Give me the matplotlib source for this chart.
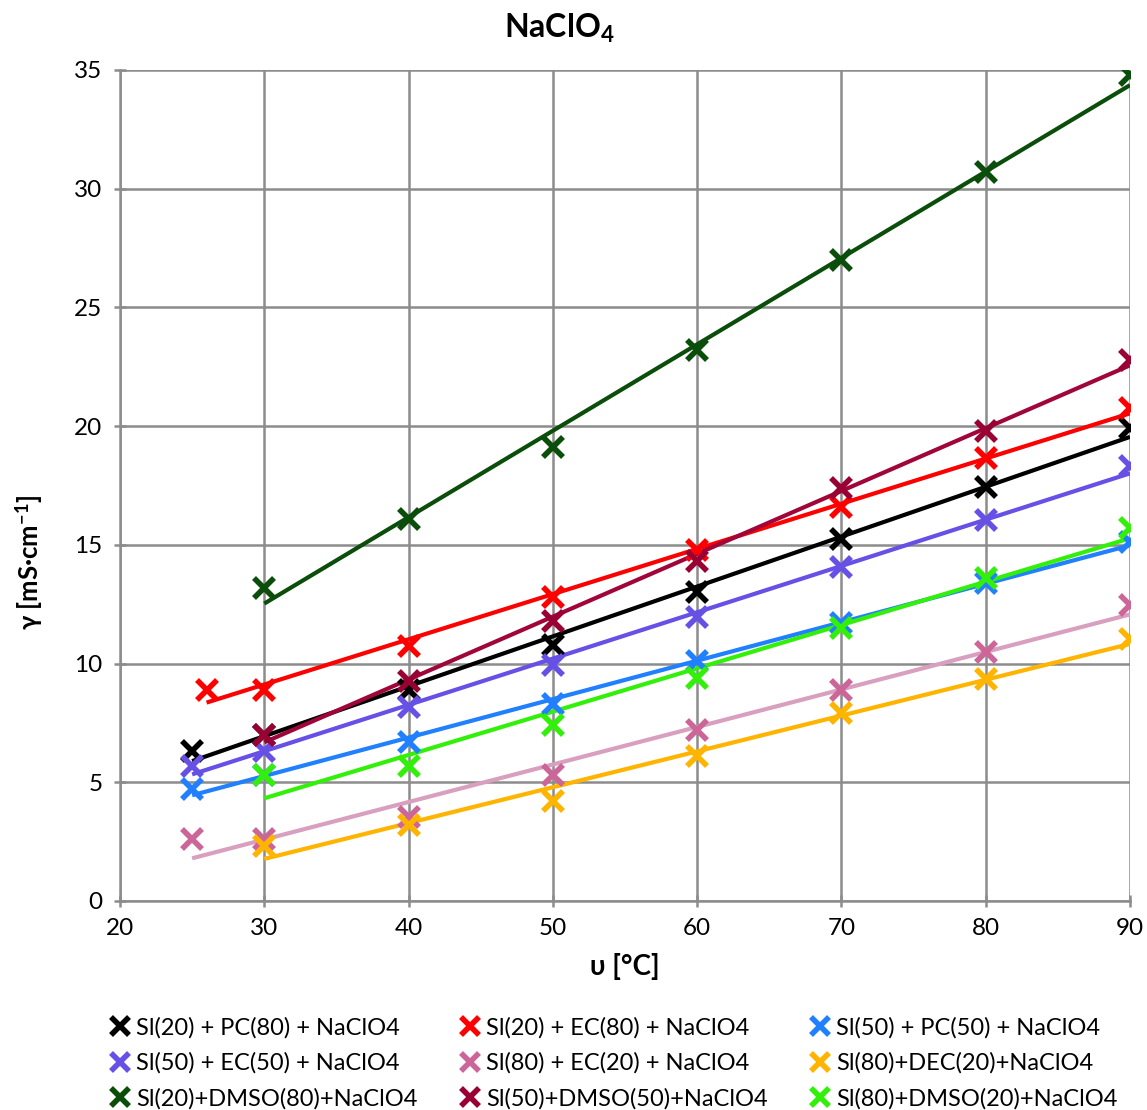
import numpy as np
import matplotlib
matplotlib.use("Agg")
import matplotlib.pyplot as plt
from matplotlib.lines import Line2D

plt.rcParams['font.family'] = ['Lato', 'DejaVu Sans']
plt.rcParams['mathtext.fontset'] = 'custom'
plt.rcParams['mathtext.rm'] = 'Lato'
plt.rcParams['mathtext.bf'] = 'Lato:bold'
plt.rcParams['mathtext.it'] = 'Lato:italic'

labels = [
    "Sl(20) + PC(80) + NaClO4",
    "Sl(20) + EC(80) + NaClO4",
    "Sl(50) + PC(50) + NaClO4",
    "Sl(50) + EC(50) + NaClO4",
    "Sl(80) + EC(20) + NaClO4",
    "Sl(80)+DEC(20)+NaClO4",
    "Sl(20)+DMSO(80)+NaClO4",
    "Sl(50)+DMSO(50)+NaClO4",
    "Sl(80)+DMSO(20)+NaClO4",
]

x_pc80 = [25, 30, 40, 50, 60, 70, 80, 90]
y_pc80 = [6.3, 7.0, 8.9, 10.8, 13.0, 15.25, 17.45, 19.9]

x_ec80 = [26, 30, 40, 50, 60, 70, 80, 90]
y_ec80 = [8.9, 8.9, 10.75, 12.8, 14.8, 16.6, 18.65, 20.75]

x_pc50 = [25, 30, 40, 50, 60, 70, 80, 90]
y_pc50 = [4.7, 5.3, 6.7, 8.3, 10.1, 11.7, 13.4, 15.1]

x_ec50 = [25, 30, 40, 50, 60, 70, 80, 90]
y_ec50 = [5.7, 6.3, 8.15, 9.95, 11.95, 14.05, 16.05, 18.3]

x_ec20 = [25, 30, 40, 50, 60, 70, 80, 90]
y_ec20 = [2.6, 2.6, 3.55, 5.3, 7.2, 8.9, 10.5, 12.45]

x_dec20 = [30, 40, 50, 60, 70, 80, 90]
y_dec20 = [2.3, 3.2, 4.2, 6.1, 7.9, 9.35, 11.05]

x_dmso80 = [30, 40, 50, 60, 70, 80, 90]
y_dmso80 = [13.2, 16.1, 19.1, 23.2, 27.0, 30.7, 34.8]

x_dmso50 = [30, 40, 50, 60, 70, 80, 90]
y_dmso50 = [7.0, 9.25, 11.8, 14.3, 17.4, 19.8, 22.8]

x_dmso20 = [30, 40, 50, 60, 70, 80, 90]
y_dmso20 = [5.3, 5.7, 7.4, 9.4, 11.5, 13.6, 15.7]

xs = [x_pc80, x_ec80, x_pc50, x_ec50, x_ec20, x_dec20, x_dmso80, x_dmso50, x_dmso20]
ys = [y_pc80, y_ec80, y_pc50, y_ec50, y_ec20, y_dec20, y_dmso80, y_dmso50, y_dmso20]

marker_colors = ['#000000', '#FF0000', '#2080FF', '#6650E6', '#CC6699',
                 '#FFB400', '#0B4D0B', '#990033', '#33F00A']
line_colors = ['#000000', '#FF0000', '#2080FF', '#6650E6', '#D8A0BE',
               '#FFB400', '#0B4D0B', '#A0063A', '#33F00A']

fig = plt.figure(figsize=(11.47, 11.10), dpi=100)
ax = fig.add_axes([0.1046, 0.1883, 0.8806, 0.7487])

for x, y, mc, lc in zip(xs, ys, marker_colors, line_colors):
    x = np.asarray(x, float)
    y = np.asarray(y, float)
    k, b = np.polyfit(x, y, 1)
    xl = np.array([x.min(), x.max()])
    ax.plot(xl, k * xl + b, color=lc, lw=3, zorder=3, solid_capstyle='butt')
for x, y, mc in zip(xs, ys, marker_colors):
    ax.plot(x, y, ls='none', marker='x', ms=15, mew=4, color=mc, zorder=4)

ax.set_xlim(20, 90)
ax.set_ylim(0, 35)
ax.set_xticks(range(20, 91, 10))
ax.set_yticks(range(0, 36, 5))
ax.grid(True, color='#8C8C8C', lw=1.8)
ax.set_axisbelow(True)
for s in ['top', 'right']:
    ax.spines[s].set_visible(False)
for s in ['left', 'bottom']:
    ax.spines[s].set_color('#8C8C8C')
    ax.spines[s].set_linewidth(1.8)
ax.tick_params(axis='both', direction='inout', length=9, width=1.8,
               color='#8C8C8C', labelsize=17.5, pad=8)

fig.text(559 / 1147, 1 - 28 / 1110, r'$\mathbf{NaClO_4}$', fontsize=23,
         ha='center', va='center')
ax.set_xlabel('υ [°C]', fontsize=20, fontweight='bold', labelpad=10)
fig.text(29 / 1147, 1 - 562 / 1110, 'γ [mS·cm$^{\\mathbf{-1}}$]', fontsize=18.5,
         fontweight='bold', rotation=90, ha='center', va='center')

handles = [Line2D([], [], ls='none', marker='x', ms=13, mew=4, color=c) for c in marker_colors]
order = [0, 3, 6, 1, 4, 7, 2, 5, 8]
fig.legend([handles[i] for i in order], [labels[i] for i in order],
           loc='lower left', bbox_to_anchor=(0.092, -0.004), ncol=3, frameon=False,
           fontsize=17, handlelength=0.8, handletextpad=0.3, columnspacing=1.8,
           labelspacing=0.6, borderaxespad=0.0, borderpad=0.2)

fig.savefig('out.png', dpi=100)
